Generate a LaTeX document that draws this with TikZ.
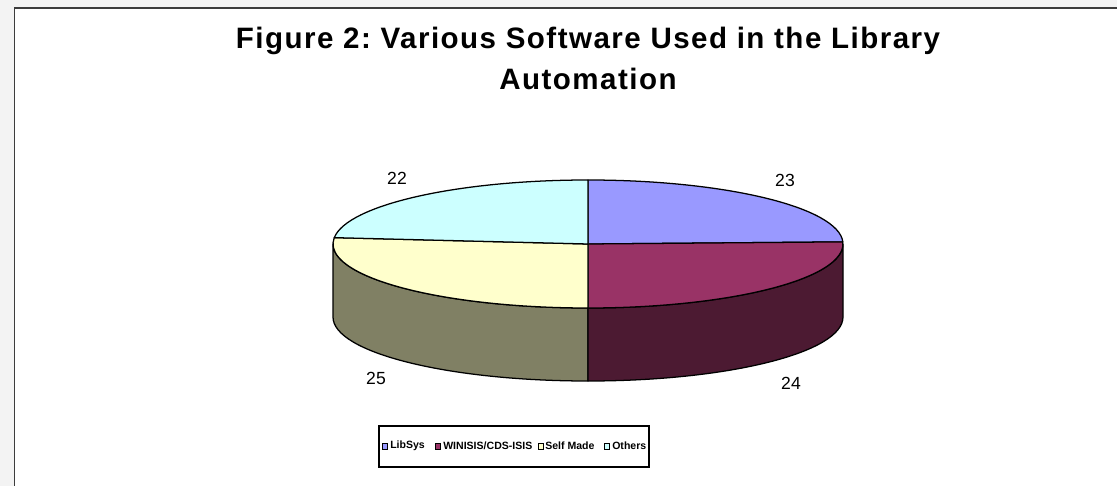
\documentclass[tikz,border=0pt]{standalone}
\usepackage{fontspec}
\setmainfont{Liberation Sans}
\newfontfamily\titlefont[LetterSpace=5]{Liberation Sans}
\frenchspacing
\definecolor{libsys}{RGB}{153,153,255}
\definecolor{winisis}{RGB}{153,51,102}
\definecolor{winisisside}{RGB}{76,26,50}
\definecolor{selfmade}{RGB}{255,255,204}
\definecolor{selfmadeside}{RGB}{128,128,100}
\definecolor{others}{RGB}{204,255,255}
\definecolor{sheetbg}{RGB}{243,243,243}
\definecolor{framegray}{RGB}{60,60,60}
\begin{document}
\begin{tikzpicture}[x=0.25mm, y=0.25mm,
  slice/.style={draw=black, line width=0.9pt, line join=round},
  val/.style={font=\fontsize{12.5}{14}\selectfont},
  keybox/.style={draw=black, line width=0.4pt, minimum width=1.2mm, minimum height=1.5mm, inner sep=0pt},
  keytext/.style={anchor=west, inner sep=0pt, font=\fontsize{7.5}{8}\selectfont\bfseries}]
\useasboundingbox (0,0) rectangle (1117,-486);
\clip (0,0) rectangle (1117,-486);
\fill[sheetbg] (0,0) rectangle (1117,-486);
\filldraw[fill=white, draw=framegray, line width=1.4pt] (14.5,-8) rectangle (1140,-510);

\node[anchor=base, font=\fontsize{21}{24}\titlefont\bfseries](title1) at (588,-49) {Figure 2: Various Software Used in the Library};
\node[anchor=base, font=\fontsize{21}{24}\titlefont\bfseries](title2) at (588,-90) {Automation};

\begin{scope}[shift={(588,-244)}]
\filldraw[slice, fill=selfmadeside] (-255,0) -- (-255,-73) arc (180:270:255 and 64) -- (0,-64) arc (270:180:255 and 64) -- cycle;
\filldraw[slice, fill=winisisside] (0,-64) -- (0,-137) arc (270:360:255 and 64) -- (255,0) arc (0:-90:255 and 64) -- cycle;
\filldraw[slice, fill=libsys] (0,0) -- (0,64) arc (90:1.9:255 and 64) -- cycle;
\filldraw[slice, fill=winisis] (0,0) -- ({255*cos(1.9)},{64*sin(1.9)}) arc (1.9:-90:255 and 64) -- cycle;
\filldraw[slice, fill=selfmade] (0,0) -- (0,-64) arc (-90:-185.7:255 and 64) -- cycle;
\filldraw[slice, fill=others] (0,0) -- ({255*cos(174.3)},{64*sin(174.3)}) arc (174.3:90:255 and 64) -- cycle;
\end{scope}

\node[val](v22) at (397,-178) {22};
\node[val](v23) at (785,-180) {23};
\node[val](v24) at (791,-383) {24};
\node[val](v25) at (376,-378) {25};

\node[draw=black, line width=1pt, minimum width=270*0.25mm, minimum height=41*0.25mm, inner sep=0pt](legend) at (514,-446.5) {};
\node[keybox, fill=libsys](k1) at (385,-446) {};
\node[keytext](t1) at (390,-446) {LibSys};
\node[keybox, fill=winisis](k2) at (437.5,-446) {};
\node[keytext](t2) at (443,-446) {WINISIS/CDS-ISIS};
\node[keybox, fill=selfmade](k3) at (540.5,-446) {};
\node[keytext](t3) at (545,-446) {Self Made};
\node[keybox, fill=others](k4) at (607,-446) {};
\node[keytext](t4) at (612,-446) {Others};
\end{tikzpicture}
\end{document}
